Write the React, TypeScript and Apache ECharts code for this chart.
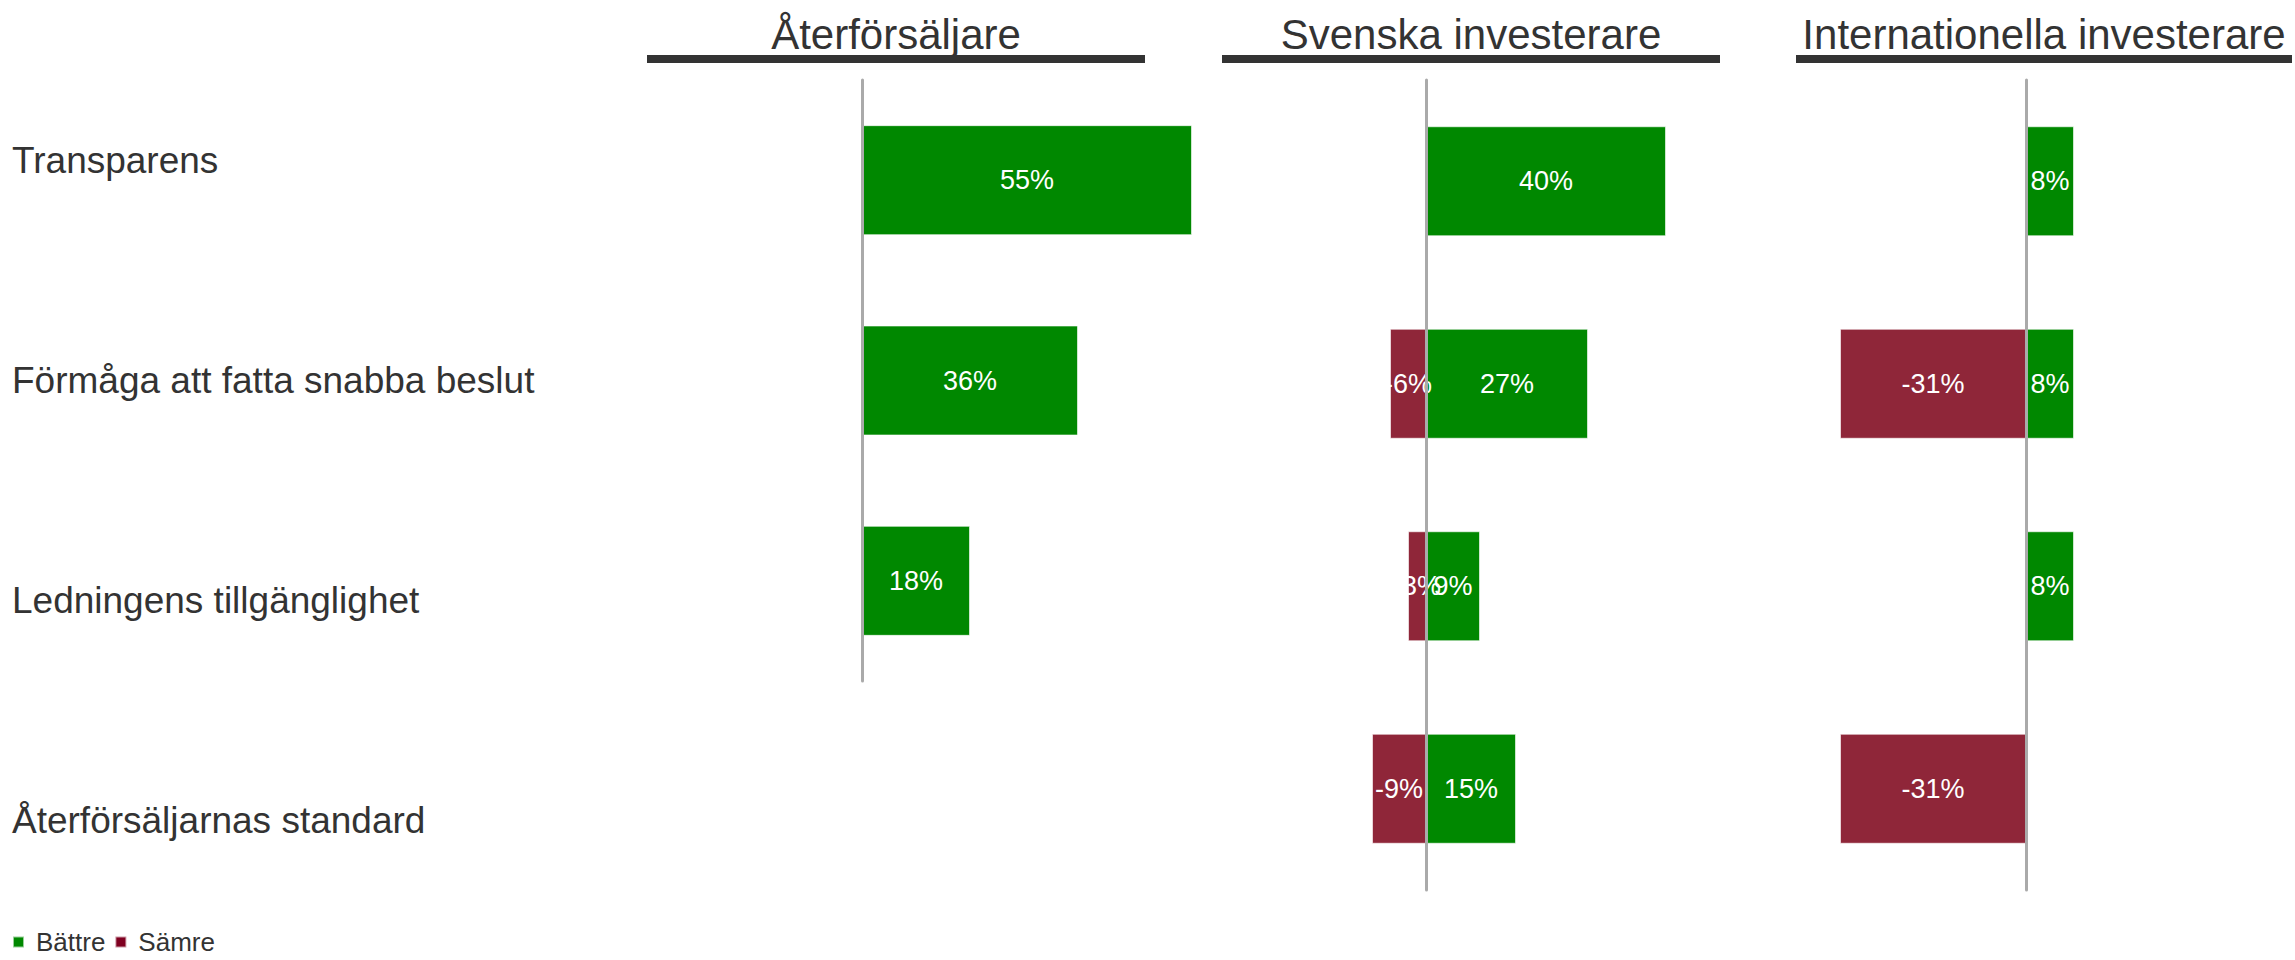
import React, { useEffect, useRef } from 'react';
import * as echarts from 'echarts';

// ---- Data ----
const rowLabels = [
  'Transparens',
  'Förmåga att fatta snabba beslut',
  'Ledningens tillgänglighet',
  'Återförsäljarnas standard',
];
const panelTitles = ['Återförsäljare', 'Svenska investerare', 'Internationella investerare'];
const seriesNames = ['Bättre', 'Sämre'];

const retailerCats = ['Transparens', 'Förmåga att fatta snabba beslut', 'Ledningens tillgänglighet'];
const retailerBetter: (number | null)[] = [55, 36, 18];
const retailerWorse: (number | null)[] = [null, null, null];

const swedishCats = rowLabels;
const swedishBetter: (number | null)[] = [40, 27, 9, 15];
const swedishWorse: (number | null)[] = [null, -6, -3, -9];

const intlCats = rowLabels;
const intlBetter: (number | null)[] = [8, 8, 8, null];
const intlWorse: (number | null)[] = [null, -31, null, -31];

// ---- Styling / layout ----
const FONT = 'Liberation Sans, Arial, sans-serif';
const GREEN = '#008800';
const RED_BAR = '#8f2639';
const RED_LEGEND = '#7f0020';

const panels = [
  { cats: retailerCats, better: retailerBetter, worse: retailerWorse, left: 742, width: 480, top: 80, height: 601, min: -20, max: 60 },
  { cats: swedishCats, better: swedishBetter, worse: swedishWorse, left: 1306, width: 420, top: 80, height: 810, min: -20, max: 50 },
  { cats: intlCats, better: intlBetter, worse: intlWorse, left: 1786, width: 360, top: 80, height: 810, min: -40, max: 20 },
];

const headerLines = [
  { x1: 647, x2: 1145 },
  { x1: 1222, x2: 1720 },
  { x1: 1796, x2: 2292 },
];

export default function App() {
  const ref = useRef<HTMLDivElement>(null);

  useEffect(() => {
    if (!ref.current) return;
    const chart = echarts.init(ref.current, undefined, { renderer: 'svg' });

    const grids: any[] = panels.map((p) => ({ left: p.left, top: p.top, width: p.width, height: p.height }));
    grids.push({ left: 12, top: 51, width: 10, height: 879 });

    const xAxes: any[] = panels.map((p, i) => ({
      type: 'value',
      gridIndex: i,
      min: p.min,
      max: p.max,
      axisLine: { show: false },
      axisTick: { show: false },
      axisLabel: { show: false },
      splitLine: { show: false },
    }));
    xAxes.push({
      type: 'value',
      gridIndex: 3,
      axisLine: { show: false },
      axisTick: { show: false },
      axisLabel: { show: false },
      splitLine: { show: false },
    });

    const yAxes: any[] = panels.map((p, i) => ({
      type: 'category',
      gridIndex: i,
      data: p.cats,
      inverse: true,
      z: 5,
      axisLine: { show: true, onZero: true, lineStyle: { color: '#aaaaaa', width: 3 } },
      axisTick: { show: false },
      axisLabel: { show: false },
      splitLine: { show: false },
    }));
    yAxes.push({
      type: 'category',
      gridIndex: 3,
      data: rowLabels,
      inverse: true,
      axisLine: { show: false },
      axisTick: { show: false },
      axisLabel: {
        show: true,
        align: 'left',
        margin: 0,
        fontSize: 37,
        fontFamily: FONT,
        color: '#333333',
      },
    });

    const labelCfg = {
      show: true,
      position: 'inside',
      color: '#ffffff',
      fontSize: 27,
      fontFamily: FONT,
      formatter: (p: any) => `${p.value}%`,
    };

    const series: any[] = [];
    panels.forEach((p, i) => {
      series.push({
        name: seriesNames[0],
        type: 'bar',
        xAxisIndex: i,
        yAxisIndex: i,
        stack: `s${i}`,
        barWidth: 110,
        data: p.better,
        itemStyle: { color: GREEN, borderColor: 'rgba(255,255,255,0.6)', borderWidth: 1 },
        label: labelCfg,
      });
      series.push({
        name: seriesNames[1],
        type: 'bar',
        xAxisIndex: i,
        yAxisIndex: i,
        stack: `s${i}`,
        barWidth: 110,
        data: p.worse,
        itemStyle: { color: RED_BAR, borderColor: 'rgba(255,255,255,0.6)', borderWidth: 1 },
        label: labelCfg,
      });
    });

    const graphic: any[] = [];
    headerLines.forEach((h, i) => {
      graphic.push({
        type: 'rect',
        shape: { x: h.x1, y: 55, width: h.x2 - h.x1, height: 8 },
        style: { fill: '#333333' },
      });
      graphic.push({
        type: 'text',
        x: (h.x1 + h.x2) / 2,
        y: 34,
        style: {
          text: panelTitles[i],
          fill: '#333333',
          font: `42px ${FONT}`,
          align: 'center',
          verticalAlign: 'middle',
        },
      });
    });

    chart.setOption({
      animation: false,
      backgroundColor: '#ffffff',
      grid: grids,
      xAxis: xAxes,
      yAxis: yAxes,
      series,
      graphic,
      legend: {
        left: 12,
        top: 929,
        padding: 0,
        icon: 'rect',
        itemWidth: 11,
        itemHeight: 11,
        itemGap: 9,
        textStyle: { fontSize: 26, fontFamily: FONT, color: '#333333', padding: [0, 0, 0, 7] },
        data: [
          { name: seriesNames[0], itemStyle: { color: GREEN } },
          { name: seriesNames[1], itemStyle: { color: RED_LEGEND } },
        ],
      },
    });

    return () => chart.dispose();
  }, []);

  return (
    <div
      ref={ref}
      style={{ position: 'fixed', left: 0, top: 0, width: 2295, height: 960, background: '#fff' }}
    />
  );
}
